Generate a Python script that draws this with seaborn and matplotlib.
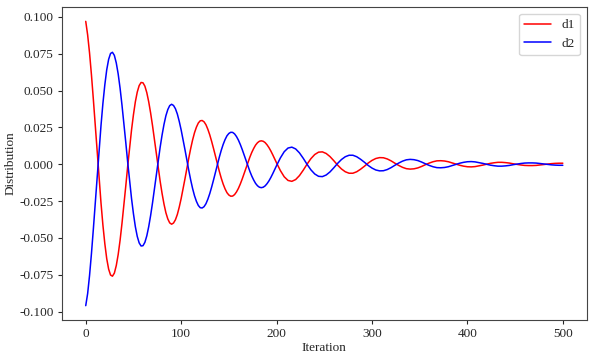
import numpy as np
import pandas as pd
import matplotlib
matplotlib.use("Agg")
import matplotlib.pyplot as plt
import seaborn as sns

# valores (cada 2 iteraciones hasta 198, luego cada 4)
iteracion = list(range(0, 200, 2)) + list(range(200, 501, 4))

d1 = [0.0970, 0.0878, 0.0755, 0.0606, 0.0439, 0.0261, 0.0080, -0.0097,
      -0.0263, -0.0413, -0.0539, -0.0641, -0.0712, -0.0752, -0.0760, -0.0739,
      -0.0688, -0.0613, -0.0516, -0.0401, -0.0276, -0.0146, -0.0012, 0.0114,
      0.0233, 0.0336, 0.0424, 0.0490, 0.0534, 0.0555, 0.0553, 0.0530,
      0.0486, 0.0424, 0.0348, 0.0262, 0.0167, 0.0071, -0.0025, -0.0116,
      -0.0198, -0.0270, -0.0329, -0.0371, -0.0398, -0.0407, -0.0399, -0.0377,
      -0.0341, -0.0291, -0.0233, -0.0167, -0.0099, -0.0027, 0.0042, 0.0107,
      0.0165, 0.0214, 0.0252, 0.0280, 0.0295, 0.0297, 0.0288, 0.0268,
      0.0237, 0.0199, 0.0154, 0.0105, 0.0053, 0.0002, -0.0048, -0.0094,
      -0.0134, -0.0167, -0.0193, -0.0209, -0.0217, -0.0216, -0.0206, -0.0188,
      -0.0164, -0.0134, -0.0100, -0.0063, -0.0025, 0.0012, 0.0048, 0.0080,
      0.0107, 0.0130, 0.0146, 0.0156, 0.0159, 0.0156, 0.0147, 0.0132,
      0.0113, 0.0090, 0.0064, 0.0036,
      0.0009, -0.0043, -0.0085, -0.0110, -0.0116, -0.0104,
      -0.0077, -0.0040, 0.0001, 0.0038, 0.0066, 0.0082, 0.0084, 0.0073,
      0.0052, 0.0024, -0.0006, -0.0032, -0.0051, -0.0061, -0.0061, -0.0051,
      -0.0034, -0.0014, 0.0008, 0.0026, 0.0039, 0.0045, 0.0044, 0.0036,
      0.0023, 0.0007, -0.0008, -0.0021, -0.0030, -0.0033, -0.0031, -0.0025,
      -0.0015, -0.0003, 0.0008, 0.0017, 0.0023, 0.0024, 0.0022, 0.0017,
      0.0009, 0.0001, -0.0007, -0.0013, -0.0017, -0.0018, -0.0016, -0.0011,
      -0.0006, 0.0000, 0.0006, 0.0010, 0.0013, 0.0013, 0.0011, 0.0008,
      0.0003, -0.0001, -0.0005, -0.0008, -0.0009, -0.0009, -0.0008, -0.0005,
      -0.0002, 0.0001, 0.0004, 0.0006, 0.0007, 0.0007]

d2 = [-0.0960, -0.0878, -0.0755, -0.0606, -0.0439, -0.0261, -0.0080, 0.0097,
      0.0263, 0.0413, 0.0539, 0.0641, 0.0712, 0.0752, 0.0760, 0.0739,
      0.0688, 0.0613, 0.0516, 0.0401, 0.0276, 0.0146, 0.0012, -0.0114,
      -0.0233, -0.0336, -0.0424, -0.0490, -0.0534, -0.0555, -0.0553, -0.0530,
      -0.0486, -0.0424, -0.0348, -0.0262, -0.0167, -0.0071, 0.0025, 0.0116,
      0.0198, 0.0270, 0.0329, 0.0371, 0.0398, 0.0407, 0.0399, 0.0377,
      0.0341, 0.0291, 0.0233, 0.0167, 0.0099, 0.0027, -0.0042, -0.0107,
      -0.0165, -0.0214, -0.0252, -0.0280, -0.0295, -0.0297, -0.0288, -0.0268,
      -0.0237, -0.0199, -0.0154, -0.0105, -0.0053, -0.0002, 0.0048, 0.0094,
      0.0134, 0.0167, 0.0193, 0.0209, 0.0217, 0.0216, 0.0206, 0.0188,
      0.0164, 0.0134, 0.0100, 0.0063, 0.0025, -0.0012, -0.0048, -0.0080,
      -0.0107, -0.0130, -0.0146, -0.0156, -0.0159, -0.0156, -0.0147, -0.0132,
      -0.0113, -0.0090, -0.0064, -0.0036,
      -0.0009, 0.0043, 0.0085, 0.0110, 0.0116, 0.0104,
      0.0077, 0.0040, -0.0001, -0.0038, -0.0066, -0.0082, -0.0084, -0.0073,
      -0.0052, -0.0024, 0.0006, 0.0032, 0.0051, 0.0061, 0.0061, 0.0051,
      0.0034, 0.0014, -0.0008, -0.0026, -0.0039, -0.0045, -0.0044, -0.0036,
      -0.0023, -0.0007, 0.0008, 0.0021, 0.0030, 0.0033, 0.0031, 0.0025,
      0.0015, 0.0003, -0.0008, -0.0017, -0.0023, -0.0024, -0.0022, -0.0017,
      -0.0009, -0.0001, 0.0007, 0.0013, 0.0017, 0.0018, 0.0016, 0.0011,
      0.0006, 0.0000, -0.0006, -0.0010, -0.0013, -0.0013, -0.0011, -0.0008,
      -0.0003, 0.0001, 0.0005, 0.0008, 0.0009, 0.0009, 0.0008, 0.0005,
      0.0002, -0.0001, -0.0004, -0.0006, -0.0007, -0.0007]

sns.set_style("white")
plt.rcParams['font.family'] = 'serif'
plt.rcParams['font.serif'] = ['Liberation Serif', 'Times New Roman', 'DejaVu Serif']
plt.rcParams['font.size'] = 9.5
plt.rcParams['axes.linewidth'] = 0.8
plt.rcParams['xtick.major.size'] = 2.6
plt.rcParams['ytick.major.size'] = 2.6
plt.rcParams['xtick.bottom'] = True
plt.rcParams['ytick.left'] = True

datos = pd.DataFrame({'Iteration': iteracion, 'd1': d1, 'd2': d2})

fig, ax = plt.subplots(figsize=(5.95, 3.57), dpi=100)
fig.subplots_adjust(left=0.104, right=0.986, top=0.980, bottom=0.104)

sns.lineplot(data=datos, x='Iteration', y='d1', color='red', linewidth=1.1, label='d1', ax=ax)
sns.lineplot(data=datos, x='Iteration', y='d2', color='blue', linewidth=1.1, label='d2', ax=ax)

ax.set_xlabel('Iteration', labelpad=1)
ax.set_ylabel('Distribution', labelpad=2)
ax.set_xticks([0, 100, 200, 300, 400, 500])
ax.set_yticks([-0.100, -0.075, -0.050, -0.025, 0.000, 0.025, 0.050, 0.075, 0.100])
ax.yaxis.set_major_formatter(matplotlib.ticker.FormatStrFormatter('%.3f'))
for s in ax.spines.values():
    s.set_color('#444444')
ax.legend(loc='upper right', frameon=True)

plt.savefig('out.png', dpi=100)
